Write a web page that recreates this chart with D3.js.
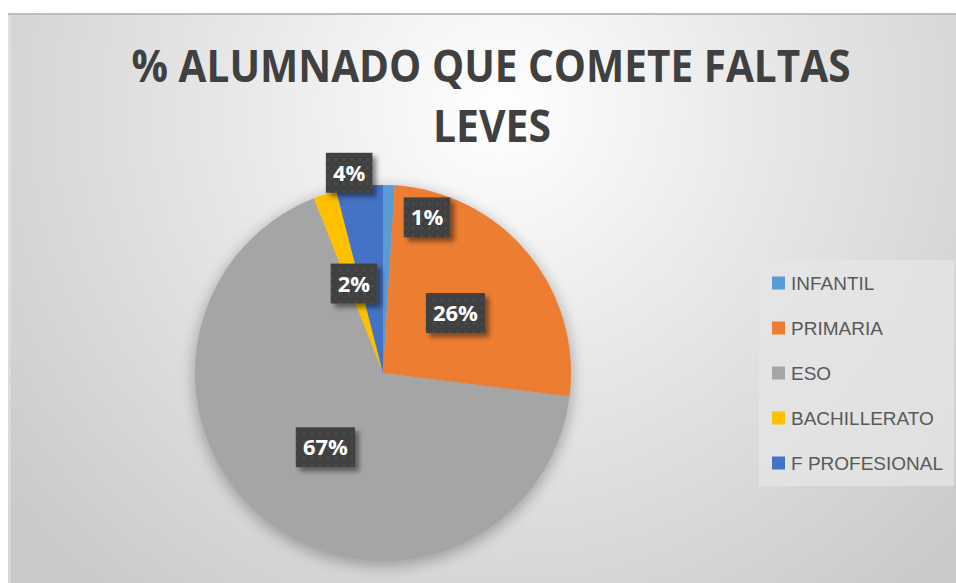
<!DOCTYPE html>
<html>
<head>
<meta charset="utf-8">
<script src="https://cdn.jsdelivr.net/npm/d3@7"></script>
<style>
  body { margin: 0; background: #fff; }
  svg { display: block; }
</style>
</head>
<body>
<svg id="svgId"></svg>
<script>
// datos del grafico
var categories = ["INFANTIL", "PRIMARIA", "ESO", "BACHILLERATO", "F PROFESIONAL"];
var values = [1, 26, 67, 2, 4];
var colors = ["#5b9bd5", "#ed7d31", "#a5a5a5", "#ffc000", "#4472c4"];
var titleLines = ["% ALUMNADO QUE COMETE FALTAS", "LEVES"];

// etiquetas movidas a mano en el original (factor de radio, giro en grados)
var labelNudge = { 0: { rf: 0.86, da: 14 }, 4: { rf: 1.08, da: -2.4 } };

function drawChart() {
    var svgWidth = 956, svgHeight = 583;
    var svg = d3.select("#svgId")
        .attr("width", svgWidth)
        .attr("height", svgHeight)
        .style("font-family", "'Open Sans', sans-serif");

    var defs = svg.append("defs");

    // fondo degradado
    var bg = defs.append("radialGradient")
        .attr("id", "bgGrad")
        .attr("gradientUnits", "userSpaceOnUse")
        .attr("cx", 500).attr("cy", 110).attr("r", 640);
    bg.append("stop").attr("offset", "0").attr("stop-color", "#ffffff");
    bg.append("stop").attr("offset", "0.45").attr("stop-color", "#e6e6e6");
    bg.append("stop").attr("offset", "1").attr("stop-color", "#c9c9c9");

    var shadow = defs.append("filter").attr("id", "pieShadow")
        .attr("x", "-20%").attr("y", "-20%").attr("width", "140%").attr("height", "140%");
    shadow.append("feGaussianBlur").attr("stdDeviation", 7);

    var boxShadow = defs.append("filter").attr("id", "boxShadow")
        .attr("x", "-30%").attr("y", "-30%").attr("width", "160%").attr("height", "160%");
    boxShadow.append("feDropShadow")
        .attr("dx", 4).attr("dy", 4).attr("stdDeviation", 2.5)
        .attr("flood-color", "#000").attr("flood-opacity", 0.45);

    var pat = defs.append("pattern").attr("id", "boxPat")
        .attr("patternUnits", "userSpaceOnUse").attr("width", 8).attr("height", 8);
    pat.append("rect").attr("width", 8).attr("height", 8).attr("fill", "#3f3f3f");
    pat.append("rect").attr("x", 1).attr("y", 1).attr("width", 3).attr("height", 3).attr("fill", "#4a4a4a");
    pat.append("rect").attr("x", 5).attr("y", 5).attr("width", 2).attr("height", 2).attr("fill", "#474747");

    // area del grafico
    svg.append("rect")
        .attr("x", 8).attr("y", 14)
        .attr("width", svgWidth - 8).attr("height", svgHeight - 14)
        .attr("fill", "url(#bgGrad)");
    svg.append("line")
        .attr("x1", 8).attr("x2", svgWidth).attr("y1", 14).attr("y2", 14)
        .attr("stroke", "#bdbdbd").attr("stroke-width", 2);
    svg.append("rect")
        .attr("x", 8).attr("y", 15).attr("width", 3).attr("height", svgHeight - 15)
        .attr("fill", "#ffffff").attr("opacity", 0.25);

    // titulo
    var title = svg.append("text")
        .attr("text-anchor", "middle")
        .attr("fill", "#404040")
        .style("font-weight", "bold")
        .style("font-size", "45px");
    title.append("tspan").attr("x", 491).attr("y", 82)
        .attr("textLength", 719).attr("lengthAdjust", "spacingAndGlyphs")
        .text(titleLines[0]);
    title.append("tspan").attr("x", 492).attr("y", 142)
        .attr("textLength", 118).attr("lengthAdjust", "spacingAndGlyphs")
        .text(titleLines[1]);

    // tarta
    var cx = 383, cy = 373, radius = 188;
    var g = svg.append("g").attr("transform", "translate(" + cx + "," + cy + ")");

    g.append("circle")
        .attr("cx", 0).attr("cy", 4).attr("r", radius + 2)
        .attr("fill", "#000").attr("opacity", 0.25)
        .attr("filter", "url(#pieShadow)");

    var pie = d3.pie().sort(null).value(function (d) { return d; });
    var arcs = pie(values);
    var arc = d3.arc().innerRadius(0).outerRadius(radius);

    g.selectAll("path.slice")
        .data(arcs)
        .enter().append("path")
        .attr("class", "slice")
        .attr("d", arc)
        .attr("fill", function (d, i) { return colors[i]; });

    // etiquetas de porcentaje
    var labels = g.selectAll("g.lbl")
        .data(arcs)
        .enter().append("g")
        .attr("class", "lbl")
        .attr("transform", function (d, i) {
            var c;
            var n = labelNudge[i];
            if (n) {
                var a = (d.startAngle + d.endAngle) / 2 + n.da * Math.PI / 180;
                var r = radius * n.rf;
                c = d3.arc().innerRadius(r).outerRadius(r).startAngle(a).endAngle(a).centroid();
            } else {
                c = arc.centroid(d);
            }
            return "translate(" + c[0] + "," + c[1] + ")";
        });

    var boxes = labels.append("rect")
        .attr("fill", "url(#boxPat)")
        .attr("filter", "url(#boxShadow)");

    var texts = labels.append("text")
        .attr("text-anchor", "middle")
        .attr("dy", "0.36em")
        .attr("fill", "#ffffff")
        .style("font-weight", "bold")
        .style("font-size", "22px")
        .text(function (d) { return d.data + "%"; });

    texts.each(function (d, i) {
        var bb = this.getBBox();
        var w = bb.width + 14, h = 40;
        d3.select(boxes.nodes()[i])
            .attr("x", -w / 2).attr("y", -h / 2)
            .attr("width", w).attr("height", h);
    });

    // leyenda
    var legend = svg.append("g");
    legend.append("rect")
        .attr("x", 759).attr("y", 260).attr("width", 195).attr("height", 226)
        .attr("fill", "#e6e6e6").attr("opacity", 0.75);

    var rowY = d3.scalePoint().domain(categories).range([283, 463]);

    var items = legend.selectAll("g.item")
        .data(categories)
        .enter().append("g")
        .attr("class", "item")
        .attr("transform", function (d) { return "translate(772," + rowY(d) + ")"; });

    items.append("rect")
        .attr("x", 0).attr("y", -6.5)
        .attr("width", 13).attr("height", 13)
        .attr("fill", function (d, i) { return colors[i]; });

    items.append("text")
        .attr("x", 19).attr("dy", "0.36em")
        .attr("fill", "#595959")
        .style("font-family", "'Liberation Sans', Arial, sans-serif")
        .style("font-size", "19px")
        .text(function (d) { return d; });
}

drawChart();
</script>
</body>
</html>
